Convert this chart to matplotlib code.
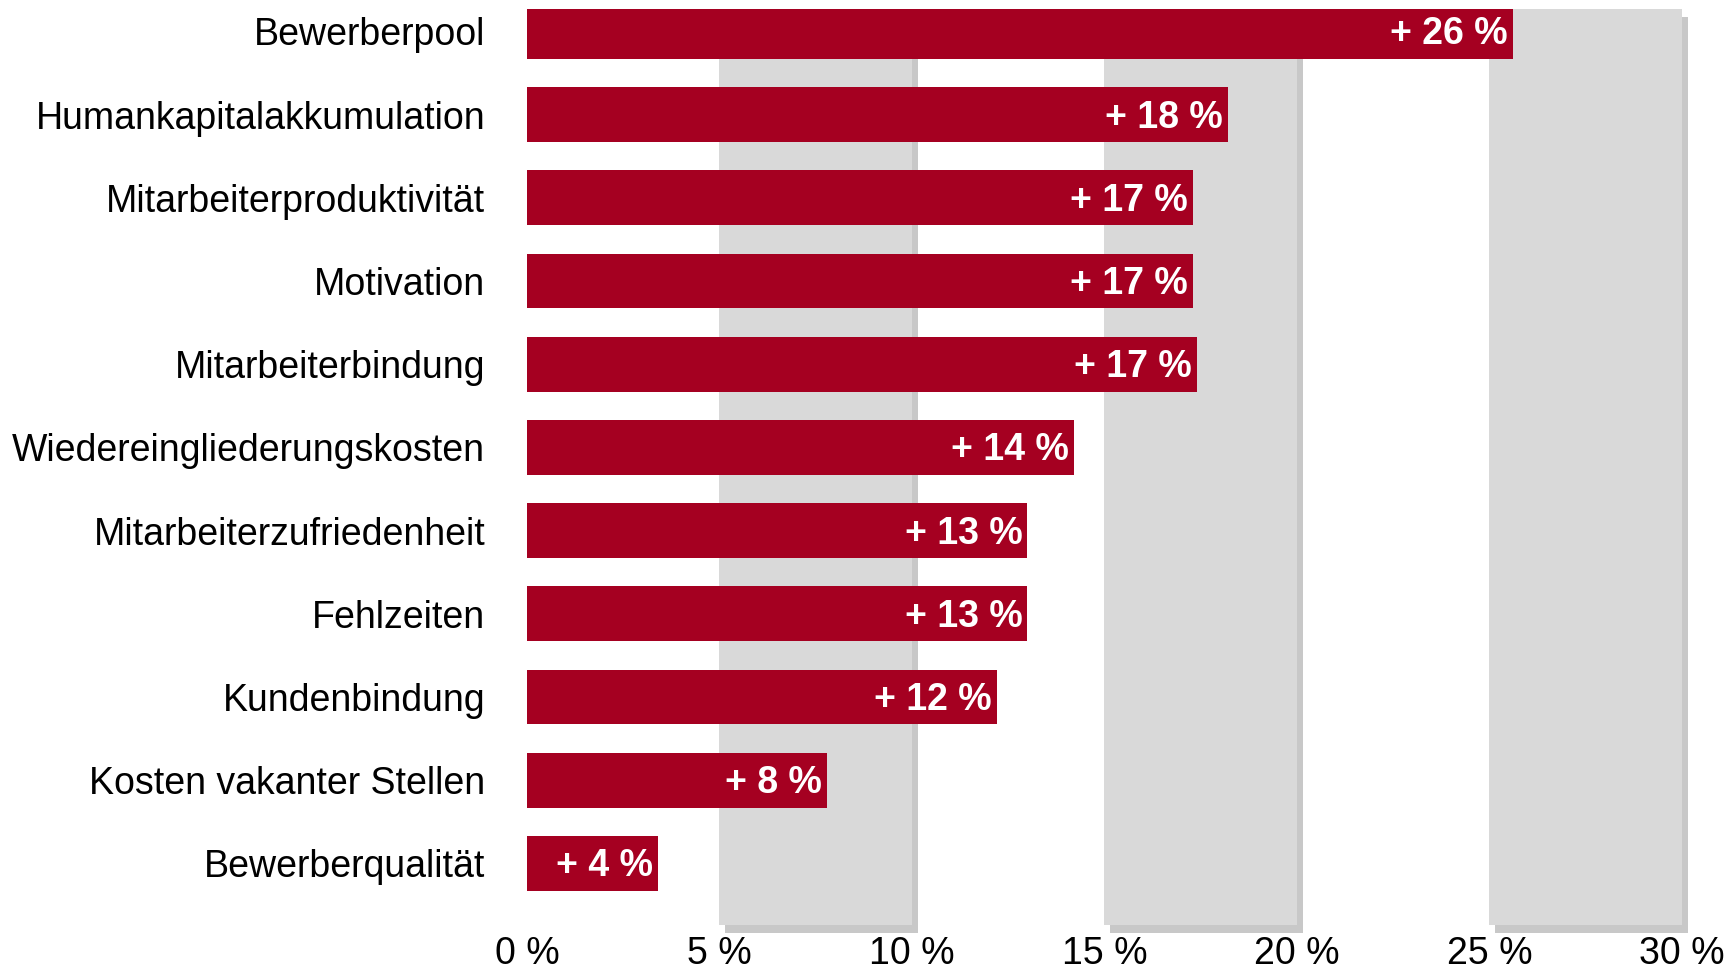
import matplotlib
matplotlib.use("Agg")
import matplotlib.pyplot as plt
import matplotlib.transforms as mtransforms
from matplotlib.patches import Rectangle

plt.rcParams['font.family'] = ['Liberation Sans', 'DejaVu Sans']

# Daten (von oben nach unten)
kategorien = ["Bewerberpool", "Humankapitalakkumulation", "Mitarbeiterproduktivität",
              "Motivation", "Mitarbeiterbindung", "Wiedereingliederungskosten",
              "Mitarbeiterzufriedenheit", "Fehlzeiten", "Kundenbindung",
              "Kosten vakanter Stellen", "Bewerberqualität"]
werte = [25.6, 18.2, 17.3, 17.3, 17.4, 14.2, 13.0, 13.0, 12.2, 7.8, 3.4]
beschriftung = ["+ 26 %", "+ 18 %", "+ 17 %", "+ 17 %", "+ 17 %", "+ 14 %",
                "+ 13 %", "+ 13 %", "+ 12 %", "+ 8 %", "+ 4 %"]
ticks = [0, 5, 10, 15, 20, 25, 30]
tick_labels = ["0 %", "5 %", "10 %", "15 %", "20 %", "25 %", "30 %"]
baender = [(5, 10), (15, 20), (25, 30)]

rot = "#a50021"
hellgrau = "#d9d9d9"
schatten = "#c8c8c8"

fig = plt.figure(figsize=(17.36, 9.74), dpi=100)
ax = fig.add_axes([0.3035, 0.0503, 0.9672 - 0.3018, 0.9908 - 0.0503])

# graue Bänder mit Schatten
trans = mtransforms.blended_transform_factory(ax.transData, ax.transAxes)
trans_sh = mtransforms.offset_copy(trans, fig=fig, x=6, y=-8, units='dots')
for a, b in baender:
    ax.add_patch(Rectangle((a, 0), b - a, 1, transform=trans_sh, color=schatten,
                           lw=0, clip_on=False, zorder=0))
    ax.add_patch(Rectangle((a, 0), b - a, 1, transform=trans, color=hellgrau,
                           lw=0, clip_on=False, zorder=1))

y = list(range(len(kategorien)))
ax.barh(y, werte, height=0.66, color=rot, zorder=3)

for yi, w, t in zip(y, werte, beschriftung):
    ax.annotate(t, (w, yi), xytext=(-5, -3), textcoords='offset pixels',
                ha='right', va='center', color='white', fontsize=27,
                fontweight='bold', zorder=4)

ax.set_xlim(0, 30)
ax.set_ylim(10.74, -0.27)
ax.set_yticks(y)
ax.set_yticklabels(kategorien, fontsize=27)
ax.set_xticks(ticks)
ax.set_xticklabels(tick_labels, fontsize=27)
ax.tick_params(axis='both', length=0)
ax.tick_params(axis='y', pad=30)
ax.tick_params(axis='x', pad=8)
for s in ax.spines.values():
    s.set_visible(False)

fig.savefig("out.png", dpi=100)
